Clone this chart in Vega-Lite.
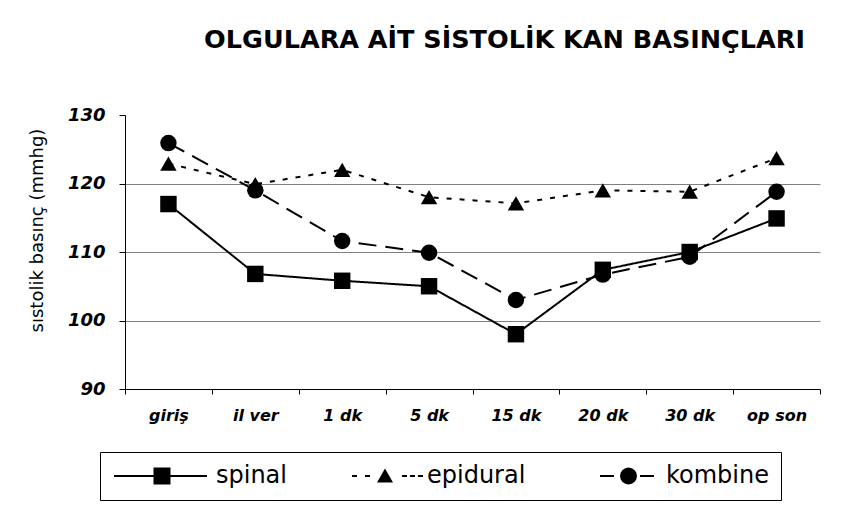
{
  "$schema": "https://vega.github.io/schema/vega-lite/v6.json",
  "autosize": {"type": "none"},
  "width": 695,
  "height": 274,
  "padding": {"left": 125, "top": 115, "right": 47, "bottom": 123},
  "background": "white",
  "config": {
    "view": {"stroke": null},
    "font": "DejaVu Sans"
  },
  "title": {
    "text": "OLGULARA AİT SİSTOLİK KAN BASINÇLARI",
    "font": "DejaVu Sans",
    "fontSize": 25.5,
    "fontWeight": "bold",
    "color": "black",
    "anchor": "middle",
    "frame": "group",
    "baseline": "alphabetic",
    "offset": 33,
    "dx": 32
  },
  "data": {
    "values": [
      {"t": "giriş", "g": "spinal", "v": 117},
      {"t": "il ver", "g": "spinal", "v": 106.8},
      {"t": "1 dk", "g": "spinal", "v": 105.8},
      {"t": "5 dk", "g": "spinal", "v": 105},
      {"t": "15 dk", "g": "spinal", "v": 98},
      {"t": "20 dk", "g": "spinal", "v": 107.4},
      {"t": "30 dk", "g": "spinal", "v": 110},
      {"t": "op son", "g": "spinal", "v": 114.9},
      {"t": "giriş", "g": "epidural", "v": 122.9},
      {"t": "il ver", "g": "epidural", "v": 119.9},
      {"t": "1 dk", "g": "epidural", "v": 122},
      {"t": "5 dk", "g": "epidural", "v": 118},
      {"t": "15 dk", "g": "epidural", "v": 117.1},
      {"t": "20 dk", "g": "epidural", "v": 119},
      {"t": "30 dk", "g": "epidural", "v": 118.8},
      {"t": "op son", "g": "epidural", "v": 123.7},
      {"t": "giriş", "g": "kombine", "v": 125.9},
      {"t": "il ver", "g": "kombine", "v": 119},
      {"t": "1 dk", "g": "kombine", "v": 111.6},
      {"t": "5 dk", "g": "kombine", "v": 109.9},
      {"t": "15 dk", "g": "kombine", "v": 103},
      {"t": "20 dk", "g": "kombine", "v": 106.7},
      {"t": "30 dk", "g": "kombine", "v": 109.3},
      {"t": "op son", "g": "kombine", "v": 118.8}
    ]
  },
  "encoding": {
    "x": {
      "field": "t",
      "type": "ordinal",
      "sort": ["giriş", "il ver", "1 dk", "5 dk", "15 dk", "20 dk", "30 dk", "op son"],
      "bandPosition": 0.5,
      "scale": {"type": "band", "paddingInner": 0, "paddingOuter": 0},
      "axis": {
        "title": null,
        "labelAngle": 0,
        "labelFont": "DejaVu Sans",
        "labelFontSize": 16,
        "labelFontWeight": "bold",
        "labelFontStyle": "italic",
        "labelColor": "black",
        "labelPadding": 13,
        "tickBand": "extent",
        "tickSize": 5,
        "tickColor": "black",
        "domainColor": "black",
        "domainWidth": 1,
        "grid": false
      }
    },
    "y": {
      "field": "v",
      "type": "quantitative",
      "scale": {"domain": [90, 130], "nice": false, "zero": false},
      "axis": {
        "values": [90, 100, 110, 120, 130],
        "title": "sıstolik basınç (mmhg)",
        "titleFont": "DejaVu Sans",
        "titleFontSize": 18,
        "titleFontWeight": "normal",
        "titleColor": "black",
        "titleX": -88,
        "titleY": 115,
        "titleBaseline": "middle",
        "titleAngle": -90,
        "labelFont": "DejaVu Sans",
        "labelFontSize": 18,
        "labelFontWeight": "bold",
        "labelFontStyle": "italic",
        "labelColor": "black",
        "labelPadding": 14,
        "tickSize": 6,
        "tickColor": "black",
        "domainColor": "black",
        "grid": true,
        "gridColor": {"condition": {"test": "datum.value == 130 || datum.value == 90", "value": "transparent"}, "value": "#808080"},
        "gridWidth": 1
      }
    }
  },
  "layer": [
    {
      "mark": {"type": "line", "color": "black", "strokeWidth": 2},
      "encoding": {
        "strokeDash": {
          "field": "g",
          "type": "nominal",
          "scale": {"domain": ["spinal", "epidural", "kombine"], "range": [[1, 0], [5, 8], [18, 9]]},
          "legend": null
        }
      }
    },
    {
      "mark": {"type": "point", "filled": true, "color": "black", "opacity": 1, "size": 270},
      "encoding": {
        "shape": {
          "field": "g",
          "type": "nominal",
          "scale": {"domain": ["spinal", "epidural", "kombine"], "range": ["square", "triangle-up", "circle"]},
          "legend": null
        }
      }
    },
    {
      "mark": {"type": "point", "filled": true, "color": "black", "opacity": 0, "size": 1},
      "encoding": {
        "shape": {
          "field": "g",
          "type": "nominal",
          "scale": {
            "domain": ["spinal", "epidural", "kombine"],
            "range": [
              "M-1,-0.1L8.3,-0.1L8.3,0.1L-1,0.1Z M2.95,-0.85L4.65,-0.85L4.65,0.85L2.95,0.85Z",
              "M1.7,-0.1L2.2,-0.1L2.2,0.1L1.7,0.1Z M3,-0.1L3.5,-0.1L3.5,0.1L3,0.1Z M5,-0.75L5.8,0.65L4.2,0.65Z M6.7,-0.1L7.2,-0.1L7.2,0.1L6.7,0.1Z M7.5,-0.1L8,-0.1L8,0.1L7.5,0.1Z M8.3,-0.1L8.8,-0.1L8.8,0.1L8.3,0.1Z",
              "M2.6,-0.1L4,-0.1L4,0.1L2.6,0.1Z M6.6,-0.1L8,-0.1L8,0.1L6.6,0.1Z M6.3,0L6.235,0.325L6.051,0.601L5.775,0.785L5.45,0.85L5.125,0.785L4.849,0.601L4.665,0.325L4.6,0L4.665,-0.325L4.849,-0.601L5.125,-0.785L5.45,-0.85L5.775,-0.785L6.051,-0.601L6.235,-0.325Z"
            ]
          },
          "legend": {
            "title": null,
            "orient": "none",
            "legendX": -25,
            "legendY": 337,
            "direction": "horizontal",
            "padding": 12,
            "strokeColor": "black",
            "fillColor": "white",
            "labelFont": "DejaVu Sans",
            "labelFontSize": 24,
            "labelColor": "black",
            "labelLimit": 400,
            "labelOffset": 80,
            "columnPadding": 36,
            "symbolSize": 400,
            "symbolOpacity": 1,
            "symbolFillColor": "black",
            "symbolStrokeColor": "transparent",
            "symbolStrokeWidth": 0
          }
        }
      }
    }
  ],
  "resolve": {"scale": {"shape": "independent"}, "legend": {"shape": "independent"}}
}
